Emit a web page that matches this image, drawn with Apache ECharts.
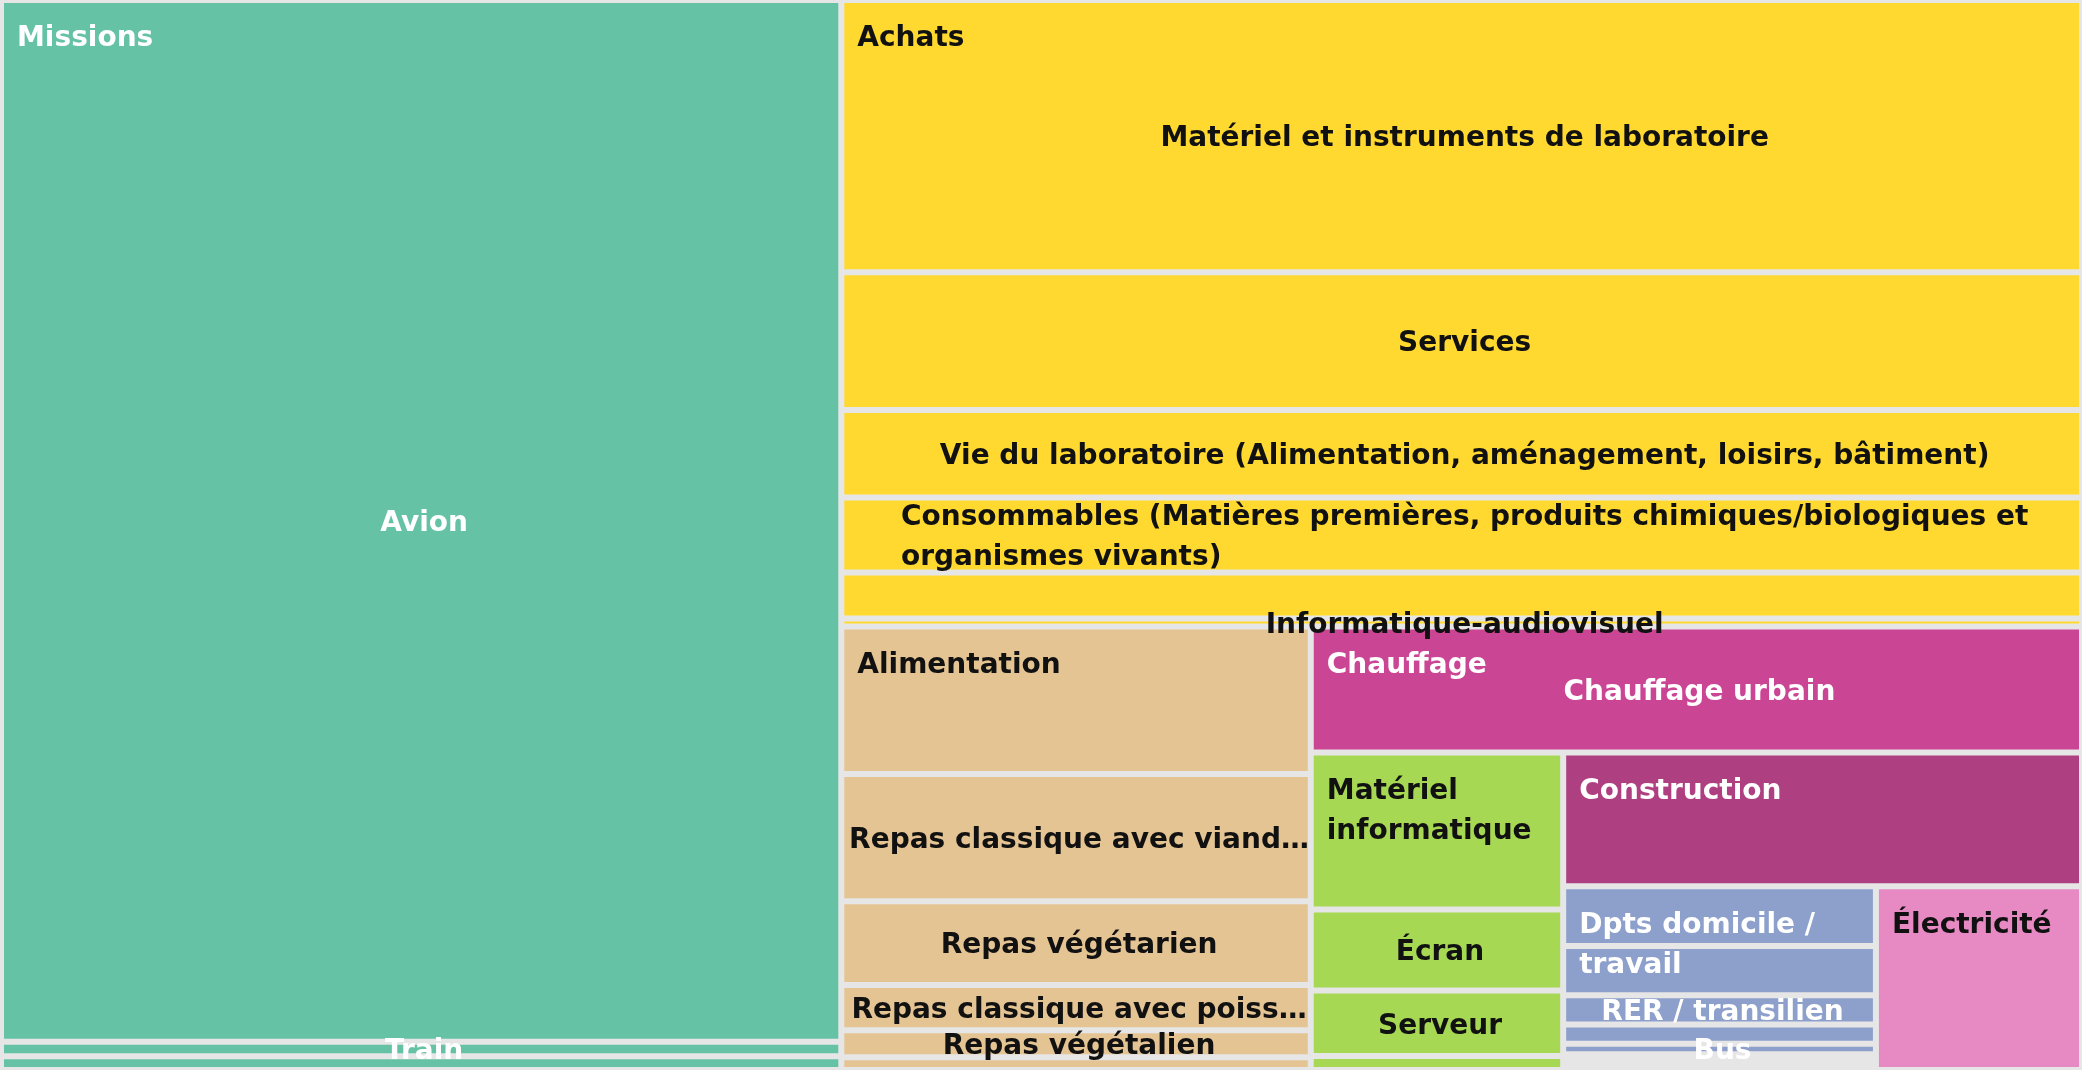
<!DOCTYPE html>
<html lang="fr">
<head>
<meta charset="utf-8">
<title>Bilan GES du laboratoire – répartition par poste</title>
<script src="https://cdn.jsdelivr.net/npm/echarts@6/dist/echarts.min.js"></script>
<style>
  html, body { margin: 0; padding: 0; background: #e6e6e6; }
  #chart { width: 2082px; height: 1070px; }
</style>
</head>
<body>
<div id="chart"></div>
<script>
// -----------------------------------------------------------------------------
// Data — share of the total footprint (%).
// A null name is a cell whose label is not shown in the source.
// -----------------------------------------------------------------------------
const categories = [
  "Missions", "Achats", "Alimentation", "Chauffage",
  "Matériel informatique", "Construction", "Dpts domicile / travail", "Électricité",
];
const categoryShares = [40.38, 34.91, 9.35, 4.36, 3.60, 3.12, 2.58, 1.70];

const missionsPosts = ["Avion", "Train", null];
const missionsShares = [39.31, 0.55, 0.52];

const achatsPosts = [
  "Matériel et instruments de laboratoire",
  "Services",
  "Vie du laboratoire (Alimentation, aménagement, loisirs, bâtiment)",
  "Consommables (Matières premières, produits chimiques/biologiques et organismes vivants)",
  null,
  "Informatique-audiovisuel",
];
const achatsShares = [15.17, 7.68, 4.87, 4.18, 2.56, 0.45];

const alimentationPosts = [
  null, "Repas classique avec viande rouge", "Repas végétarien",
  "Repas classique avec poisson", "Repas végétalien", null,
];
const alimentationShares = [3.11, 2.68, 1.77, 0.95, 0.57, 0.27];

const chauffagePosts = ["Chauffage urbain"];
const chauffageShares = [4.36];

const materielPosts = [null, "Écran", "Serveur", null];
const materielShares = [1.78, 0.92, 0.74, 0.16];

const constructionPosts = [null];
const constructionShares = [3.12];

// Sub-posts do not cover the whole category here (empty strip at the bottom).
const deplacementsPosts = [null, null, "RER / transilien", null, "Bus"];
const deplacementsShares = [0.84, 0.69, 0.41, 0.27, 0.15];

const electricitePosts = [null];
const electriciteShares = [1.70];

// -----------------------------------------------------------------------------
// Styling
// -----------------------------------------------------------------------------
const POSTS = [
  [missionsPosts, missionsShares],
  [achatsPosts, achatsShares],
  [alimentationPosts, alimentationShares],
  [chauffagePosts, chauffageShares],
  [materielPosts, materielShares],
  [constructionPosts, constructionShares],
  [deplacementsPosts, deplacementsShares],
  [electricitePosts, electriciteShares],
];
const PALETTE = ["#66c2a5", "#ffd92f", "#e5c494", "#cb4595", "#a6d854", "#ae4082", "#8da0cb", "#e78ac3"];
const TEXT_COLORS = ["#ffffff", "#111111", "#111111", "#ffffff", "#111111", "#ffffff", "#ffffff", "#111111"];
const TRUNCATED = new Set(["Alimentation"]); // one-line labels with an ellipsis

const GAP = 6;                 // grey gutter between cells
const FONT = 'bold 28px "DejaVu Sans"';
const LINE_HEIGHT = 40;
const LABEL_PAD = 3;
const LABEL_DX = 3;            // centred labels sit a little right / low
const LABEL_DY = 3;
const HEADER_X = 13;
const HEADER_Y = 16;

const measureCtx = document.createElement("canvas").getContext("2d");
measureCtx.font = FONT;
const measure = (s) => measureCtx.measureText(s).width;

function wrapWords(text, maxWidth) {
  const lines = [];
  let line = "";
  for (const word of text.split(" ")) {
    const next = line ? line + " " + word : word;
    if (line && measure(next) > maxWidth) {
      lines.push(line);
      line = word;
    } else {
      line = next;
    }
  }
  if (line) lines.push(line);
  return lines;
}

function ellipsize(text, maxWidth) {
  if (measure(text) <= maxWidth) return text;
  let s = text;
  while (s.length && measure(s + "…") > maxWidth) s = s.slice(0, -1);
  return s.trimEnd() + "…";
}

// -----------------------------------------------------------------------------
// Layout: categories cut the remaining area in turn (vertical, horizontal, ...),
// posts are stacked inside their category. Units are fractions of the plot.
// -----------------------------------------------------------------------------
function buildLayout() {
  const leaves = [];
  const blocks = [];
  let x0 = 0, y0 = 0, x1 = 1, y1 = 1;
  let rest = categoryShares.reduce((a, b) => a + b, 0);

  categories.forEach((cat, i) => {
    const share = categoryShares[i];
    let r;
    if (i === categories.length - 1) {
      r = [x0, y0, x1, y1];
    } else if (i % 2 === 0) {
      const cut = x0 + (x1 - x0) * share / rest;
      r = [x0, y0, cut, y1];
      x0 = cut;
    } else {
      const cut = y0 + (y1 - y0) * share / rest;
      r = [x0, y0, x1, cut];
      y0 = cut;
    }
    rest -= share;
    blocks.push({ name: cat, value: r, cat: i });

    const [names, shares] = POSTS[i];
    let y = r[1];
    names.forEach((name, j) => {
      const h = (r[3] - r[1]) * shares[j] / share;
      leaves.push({ name: name || "", value: [r[0], y, r[2], y + h], cat: i });
      y += h;
    });
  });
  return { leaves, blocks };
}

function pixelRect(api) {
  const a = api.coord([api.value(0), api.value(1)]);
  const b = api.coord([api.value(2), api.value(3)]);
  return {
    x: Math.min(a[0], b[0]) + GAP / 2,
    y: Math.min(a[1], b[1]) + GAP / 2,
    width: Math.max(Math.abs(b[0] - a[0]) - GAP, 0),
    height: Math.max(Math.abs(b[1] - a[1]) - GAP, 0),
  };
}

function textEl(lines, x, y, color, vAlign, z2) {
  return {
    type: "text",
    z2,
    x,
    y,
    style: {
      text: lines.join("\n"),
      font: FONT,
      fill: color,
      textFill: color,
      align: "left",
      textAlign: "left",
      verticalAlign: vAlign,
      textVerticalAlign: vAlign,
      lineHeight: LINE_HEIGHT,
      textLineHeight: LINE_HEIGHT,
    },
  };
}

const { leaves, blocks } = buildLayout();

const chart = echarts.init(document.getElementById("chart"), null, { renderer: "canvas" });

chart.setOption({
  animation: false,
  backgroundColor: "#e6e6e6",
  // the right-hand cells run slightly past the picture edge, as in the source
  grid: { left: 1, top: 0, right: -7, bottom: -1 },
  xAxis: { type: "value", min: 0, max: 1, show: false },
  yAxis: { type: "value", min: 0, max: 1, inverse: true, show: false },
  series: [
    {
      name: "Postes",
      type: "custom",
      silent: true,
      encode: { x: [0, 2], y: [1, 3] },
      data: leaves.map((l) => ({ name: l.name, value: l.value })),
      renderItem(params, api) {
        const item = leaves[params.dataIndex];
        const rect = pixelRect(api);
        const children = [
          { type: "rect", z2: 0, shape: rect, style: { fill: PALETTE[item.cat] } },
        ];
        if (item.name) {
          const truncated = TRUNCATED.has(categories[item.cat]);
          const lines = truncated
            ? [ellipsize(item.name, rect.width + LABEL_PAD)]
            : wrapWords(item.name, rect.width - 2 * LABEL_PAD);
          const blockW = Math.max(...lines.map(measure));
          children.push(
            textEl(lines,
              rect.x + (rect.width - blockW) / 2 + LABEL_DX,
              rect.y + rect.height / 2 + LABEL_DY,
              TEXT_COLORS[item.cat], "middle", 10),
          );
        }
        return { type: "group", children };
      },
    },
    {
      name: "Catégories",
      type: "custom",
      silent: true,
      encode: { x: [0, 2], y: [1, 3] },
      data: blocks.map((b) => ({ name: b.name, value: b.value })),
      renderItem(params, api) {
        const block = blocks[params.dataIndex];
        const rect = pixelRect(api);
        const lines = wrapWords(block.name, rect.width - 2 * HEADER_X);
        return textEl(lines, rect.x + HEADER_X, rect.y + HEADER_Y, TEXT_COLORS[block.cat], "top", 20);
      },
    },
  ],
});

window.addEventListener("resize", () => chart.resize());
</script>
</body>
</html>
